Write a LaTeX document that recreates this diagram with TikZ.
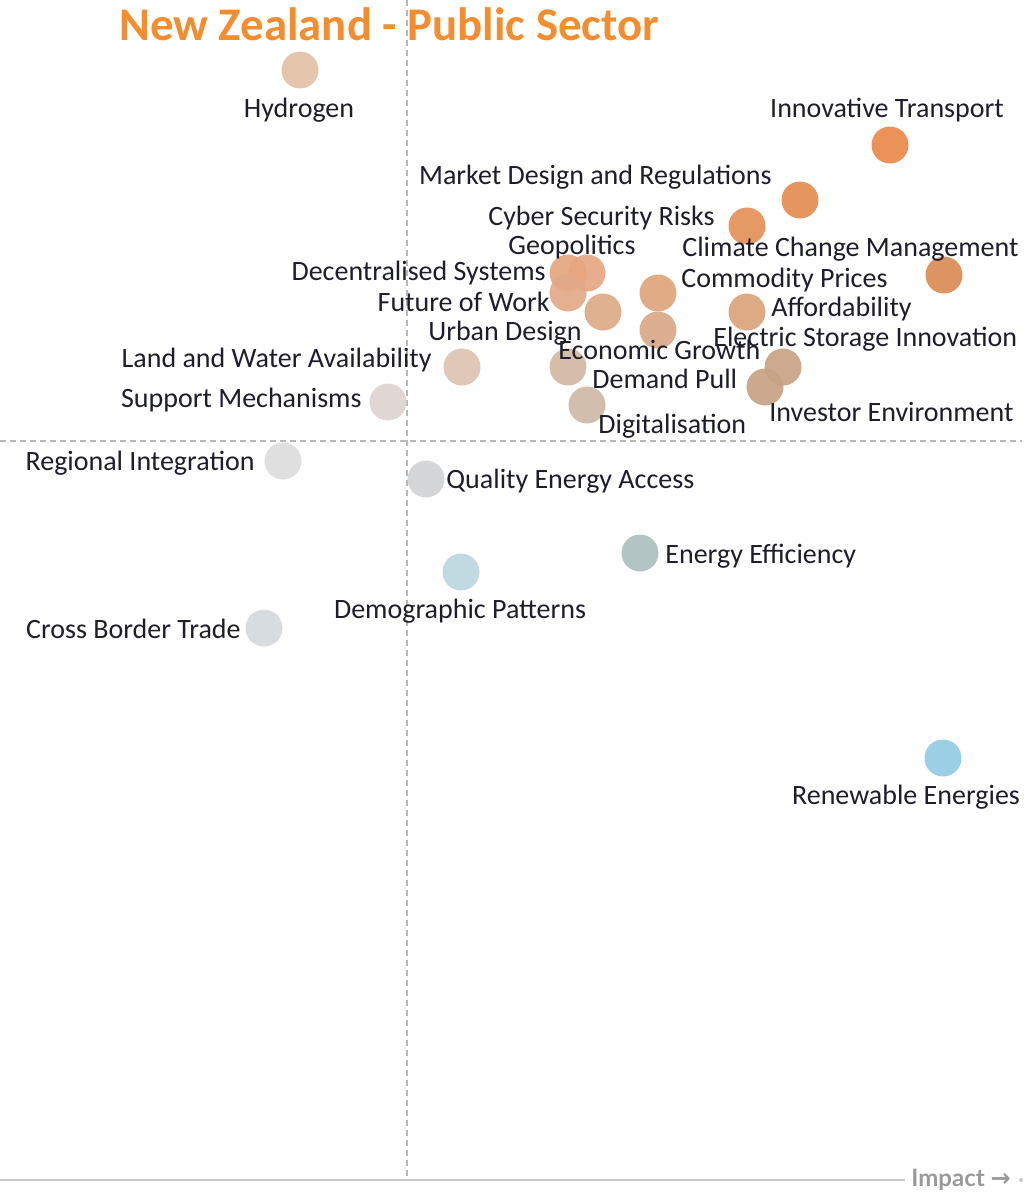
\documentclass[tikz,border=0pt]{standalone}
\usepackage{fontspec}
\setmainfont{Carlito}
\newfontfamily\axfont{Lato}
\newfontfamily\arrfont{DejaVu Sans}
\usetikzlibrary{positioning}

\definecolor{ttl}{HTML}{F28E2F}
\definecolor{grid}{HTML}{B8B8B8}
\definecolor{axis}{HTML}{C8C8C8}
\definecolor{axtxt}{HTML}{9A9A9A}
\definecolor{txt}{HTML}{1E1E2A}

\tikzset{
  bub/.style={circle, minimum size=18.5pt, inner sep=0pt},
  lbl/.style={font=\fontsize{14}{16}\selectfont, text=txt, inner sep=0pt, yshift=-1pt},
  quad/.style={grid, line width=1pt, dash pattern=on 3pt off 2pt}
}

\begin{document}
\begin{tikzpicture}[x=0.5pt,y=-0.5pt]
    \useasboundingbox (0,0) rectangle (1034,1196);

    % quadrant lines
    \draw[quad] (407,0) -- (407,1180);
    \draw[quad] (0,441) -- (1022,441);

    % impact axis
    \node[font=\axfont\bfseries\fontsize{12}{14}\selectfont, text=axtxt, anchor=west, inner sep=0pt]
        (impact) at (911,1180) {Impact {\arrfont\bfseries →}};
    \coordinate (origin) at (0,1180);
    \draw[axis, line width=1pt] (origin) -- ([xshift=-3pt]impact.west);
    \fill[axis] (1021,1180) circle (1pt);

    % title
    \node[font=\bfseries\fontsize{23.4}{28}\selectfont, text=ttl, anchor=west, inner sep=0pt]
        (title) at (119,24) {New Zealand - Public Sector};

    % bubbles
    \foreach \n/\x/\y/\c in {
        hyd/300/70/E3C1A6, trans/890/145/E8894A, mkt/800/200/E38D50,
        cyber/747/226/E39058, clim/944/275/D98B55, geo/587/273/E5A682,
        dec/568/273/E5A580, fow/568/293/E2A988, urb/603/312/DDAA88,
        comm/658/293/DEA57B, econ/658/330/D8A886, aff/747/312/D9A37A,
        elec/783/367/C9A384, inv/765/387/C6A285, land/462/367/DCC3B2,
        dem/568/367/D3B7A2, dig/587/405/CDB8A6, supp/388/402/DDD3CF,
        reg/283/461/DCDCDC, qea/426/479/D0D3D5, eff/640/553/ADBFBF,
        demo/461/572/BCD7E0, cbt/264/628/D2D9DD, ren/943/758/93CBE3} {
        \definecolor{bc}{HTML}{\c}
        \node[bub, fill=bc, fill opacity=0.92] (\n) at (\x,\y) {};
    }

    % labels
    \node[lbl] (hydL) at (299,108) {Hydrogen};
    \node[lbl] (transL) at (887,108) {Innovative Transport};
    \node[lbl, anchor=east] (mktL) at (772,175) {Market Design and Regulations};
    \node[lbl, anchor=east] (cyberL) at (715,216) {Cyber Security Risks};
    \node[lbl] (geoL) at (572,245) {Geopolitics};
    \node[lbl, anchor=west] (climL) at (682,247) {Climate Change Management};
    \node[lbl, anchor=east] (decL) at (546,271) {Decentralised Systems};
    \node[lbl, anchor=west] (commL) at (681,278) {Commodity Prices};
    \node[lbl, anchor=east] (fowL) at (550,300) {Future of Work};
    \node[lbl, anchor=west] (affL) at (771,307) {Affordability};
    \node[lbl, anchor=east] (urbL) at (582,331) {Urban Design};
    \node[lbl, anchor=west] (elecL) at (713,337) {Electric Storage Innovation};
    \node[lbl, anchor=west] (econL) at (558,348) {Economic Growth};
    \node[lbl, anchor=east] (landL) at (432,358) {Land and Water Availability};
    \node[lbl, anchor=west] (demL) at (592,377) {Demand Pull};
    \node[lbl, anchor=east] (suppL) at (362,398) {Support Mechanisms};
    \node[lbl, anchor=west] (invL) at (769,410) {Investor Environment};
    \node[lbl, anchor=west] (digL) at (598,424) {Digitalisation};
    \node[lbl, anchor=east] (regL) at (255,461) {Regional Integration};
    \node[lbl, anchor=west] (qeaL) at (446,479) {Quality Energy Access};
    \node[lbl, anchor=west] (effL) at (665,554) {Energy Efficiency};
    \node[lbl] (demoL) at (460,609) {Demographic Patterns};
    \node[lbl, anchor=east] (cbtL) at (241,627) {Cross Border Trade};
    \node[lbl] (renL) at (906,795) {Renewable Energies};
\end{tikzpicture}
\end{document}
